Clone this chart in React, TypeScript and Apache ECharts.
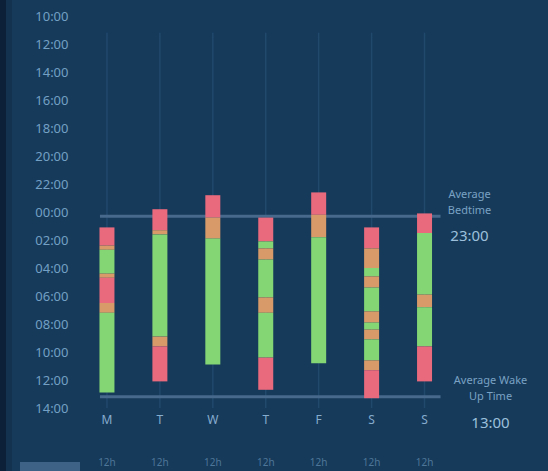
import React, { useEffect, useRef } from "react";
import * as echarts from "echarts";

// ---- data ----
const days = ["M", "T", "W", "T", "F", "S", "S"];
const yTicks = { min: 10, max: 38, interval: 2 }; // hours (24+ = next day)

// sleep segments per day: [startHour, endHour, stage]  stage: 0 awake, 1 light, 2 deep
const monSleep = [[25.1, 26.4, 0], [26.4, 26.7, 1], [26.7, 28.4, 2], [28.4, 28.7, 1], [28.7, 30.5, 0], [30.5, 31.2, 1], [31.2, 36.9, 2]];
const tueSleep = [[23.8, 25.3, 0], [25.3, 25.6, 1], [25.6, 32.9, 2], [32.9, 33.6, 1], [33.6, 36.1, 0]];
const wedSleep = [[22.8, 24.4, 0], [24.4, 25.9, 1], [25.9, 34.9, 2]];
const thuSleep = [[24.4, 26.1, 0], [26.1, 26.6, 2], [26.6, 27.4, 1], [27.4, 30.1, 2], [30.1, 31.2, 1], [31.2, 34.4, 2], [34.4, 36.7, 0]];
const friSleep = [[22.6, 24.2, 0], [24.2, 25.8, 1], [25.8, 34.8, 2]];
const satSleep = [[25.1, 26.6, 0], [26.6, 28.0, 1], [28.0, 28.6, 2], [28.6, 29.4, 1], [29.4, 31.1, 2], [31.1, 31.9, 1], [31.9, 32.4, 2], [32.4, 33.1, 1], [33.1, 34.6, 2], [34.6, 35.3, 1], [35.3, 37.3, 0]];
const sunSleep = [[24.1, 25.5, 0], [25.5, 29.9, 2], [29.9, 30.8, 1], [30.8, 33.6, 2], [33.6, 36.1, 0]];
const weekSleep = [monSleep, tueSleep, wedSleep, thuSleep, friSleep, satSleep, sunSleep];

const guideStart = 11.2;
const averageValues = [24.3, 37.2];
const averageTitles = ["Average\nBedtime", "Average Wake\nUp Time"];
const averageTimes = ["23:00", "13:00"];

// ---- styles ----
const stageColors = ["#e9697d", "#d89a68", "#84d674"];
const labelOffsets = [{ dx: 29, dy: -31 }, { dx: 50, dy: -25 }];

function fmtHour(v: number) {
  const h = ((Math.round(v) % 24) + 24) % 24;
  return (h < 10 ? "0" : "") + h + ":00";
}

export default function App() {
  const ref = useRef<HTMLDivElement>(null);
  useEffect(() => {
    document.body.style.margin = "0";
    document.body.style.background = "#163a5a";
    const chart = echarts.init(ref.current!, null, { renderer: "svg" });

    const segData: any[] = [];
    weekSleep.forEach((segs, i) => segs.forEach((s) => segData.push([i, s[0], s[1], s[2]])));
    const durations = weekSleep.map((segs) => segs[segs.length - 1][1] - segs[0][0]);
    const guideData = days.map((_, i) => [i, guideStart, yTicks.max]);
    const avgData = averageValues.map((v, i) => [0, v, i]);

    const font = "Noto Sans";
    chart.setOption({
      animation: false,
      backgroundColor: "#163a5a",
      textStyle: { fontFamily: font },
      graphic: [
        { type: "rect", left: 0, top: 0, shape: { width: 6, height: 471 }, style: { fill: "#0c2137" } },
        { type: "rect", left: 6, top: 0, shape: { width: 6, height: 471 }, style: { fill: "#12324f" } },
        { type: "rect", left: 20, top: 462, shape: { width: 60, height: 14 }, style: { fill: "#3d6285" } },
      ],
      grid: { left: 80.5, right: 97, top: 16, bottom: 63 },
      xAxis: [
        {
          type: "category",
          data: days,
          axisLine: { show: false },
          axisTick: { show: false },
          splitLine: { show: false },
          axisLabel: { color: "#86acce", fontSize: 12, margin: 5, fontFamily: font },
        },
        {
          type: "category",
          data: durations.map((d) => Math.round(d) + "h"),
          position: "bottom",
          offset: 41,
          axisLine: { show: false },
          axisTick: { show: false },
          axisLabel: { color: "#4e7698", fontSize: 10, fontFamily: font },
        },
      ],
      yAxis: {
        type: "value",
        inverse: true,
        min: yTicks.min,
        max: yTicks.max,
        interval: yTicks.interval,
        axisLine: { show: false },
        axisTick: { show: false },
        splitLine: { show: false },
        axisLabel: { color: "#73a0c4", fontSize: 13, margin: 12, formatter: fmtHour, fontFamily: font },
      },
      series: [
        {
          type: "custom",
          data: guideData,
          encode: { x: 0, y: [1, 2] },
          z: 1,
          silent: true,
          renderItem: (params: any, api: any) => {
            const p0 = api.coord([api.value(0), api.value(1)]);
            const p1 = api.coord([api.value(0), api.value(2)]);
            return {
              type: "line",
              shape: { x1: p0[0], y1: p0[1], x2: p1[0], y2: p1[1] },
              style: { stroke: "#21496b", lineWidth: 1.5 },
            };
          },
        },
        {
          type: "custom",
          data: avgData,
          encode: { x: 0, y: 1 },
          z: 2,
          silent: true,
          renderItem: (params: any, api: any) => {
            const v = api.value(1);
            const idx = api.value(2);
            const a = api.coord([0, v]);
            const b = api.coord([days.length - 1, v]);
            const x1 = a[0] - 7;
            const x2 = b[0] + 16;
            const off = labelOffsets[idx];
            return {
              type: "group",
              children: [
                {
                  type: "line",
                  shape: { x1, y1: a[1], x2, y2: a[1] },
                  style: { stroke: "#47698b", lineWidth: 3 },
                },
                {
                  type: "text",
                  x: x2 + off.dx,
                  y: a[1] + off.dy,
                  style: {
                    text: "{a|" + averageTitles[idx].split("\n").join("}\n{a|") + "}\n{b|" + averageTimes[idx] + "}",
                    align: "center",
                    verticalAlign: "top",
                    rich: {
                      a: { fontSize: 11, lineHeight: 16, fill: "#7aa2c4", fontFamily: font, align: "center" },
                      b: { fontSize: 15, lineHeight: 36, fill: "#9cc0dc", fontFamily: font, align: "center" },
                    },
                  },
                },
              ],
            };
          },
        },
        {
          type: "custom",
          data: segData,
          encode: { x: 0, y: [1, 2] },
          z: 3,
          renderItem: (params: any, api: any) => {
            const i = api.value(0);
            const p0 = api.coord([i, api.value(1)]);
            const p1 = api.coord([i, api.value(2)]);
            const w = 15;
            return {
              type: "rect",
              shape: { x: p0[0] - w / 2, y: Math.min(p0[1], p1[1]), width: w, height: Math.abs(p1[1] - p0[1]) },
              style: { fill: stageColors[api.value(3)] },
            };
          },
        },
      ],
    });
    return () => chart.dispose();
  }, []);
  return <div ref={ref} style={{ width: 548, height: 471 }} />;
}
